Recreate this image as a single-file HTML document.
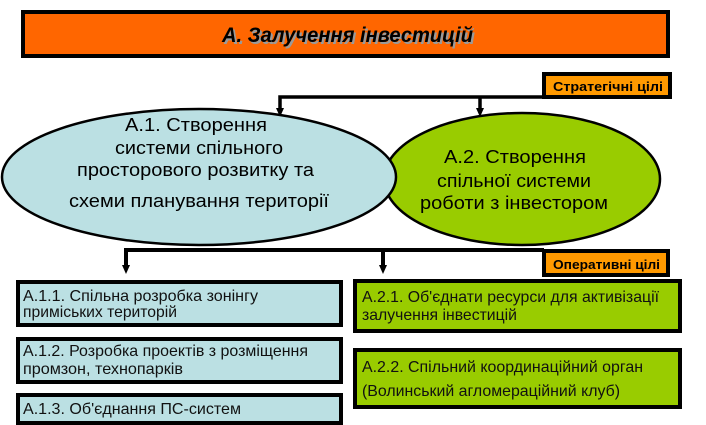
<!DOCTYPE html>
<html>
<head>
<meta charset="utf-8">
<style>
html,body{margin:0;padding:0;background:#fff;}
svg{display:block;}
text{font-family:"Liberation Sans","DejaVu Sans",sans-serif;}
</style>
</head>
<body>
<svg width="706" height="425" viewBox="0 0 706 425" xmlns="http://www.w3.org/2000/svg">
<rect x="0" y="0" width="706" height="425" fill="#fff"/>

<!-- Title -->
<rect x="23" y="12" width="645" height="44" fill="#FF6600" stroke="#000" stroke-width="4"/>
<text x="224" y="44" font-size="21" font-weight="bold" font-style="italic" fill="#9a9a9a" textLength="251" lengthAdjust="spacingAndGlyphs">А. Залучення інвестицій</text>
<text x="222" y="42" font-size="21" font-weight="bold" font-style="italic" fill="#000" textLength="251" lengthAdjust="spacingAndGlyphs">А. Залучення інвестицій</text>

<!-- Strategic connectors -->
<path d="M280,112 L280,97 L544,97" fill="none" stroke="#000" stroke-width="3.5"/>
<line x1="480" y1="97" x2="480" y2="110" stroke="#000" stroke-width="3.5"/>
<polygon points="276,108 284,108 280,117" fill="#000"/>
<polygon points="476,108 484,108 480,117" fill="#000"/>

<!-- Strategic label -->
<rect x="544" y="74" width="126" height="23" fill="#FF9900" stroke="#000" stroke-width="4"/>
<text x="553" y="91" font-size="13" font-weight="bold" fill="#000" textLength="110" lengthAdjust="spacingAndGlyphs">Стратегічні  цілі</text>

<!-- Ellipses -->
<ellipse cx="522" cy="179" rx="138" ry="66" fill="#99CC00" stroke="#000" stroke-width="2.5"/>
<ellipse cx="199" cy="177" rx="197" ry="68" fill="#BBE0E3" stroke="#000" stroke-width="2.5"/>

<text x="125" y="131" font-size="18" fill="#000" textLength="142" lengthAdjust="spacingAndGlyphs">А.1. Створення</text>
<text x="115" y="154" font-size="18" fill="#000" textLength="168" lengthAdjust="spacingAndGlyphs">системи спільного</text>
<text x="77" y="176" font-size="18" fill="#000" textLength="237" lengthAdjust="spacingAndGlyphs">просторового розвитку та</text>
<text x="69" y="207" font-size="18" fill="#000" textLength="260" lengthAdjust="spacingAndGlyphs">схеми планування території</text>

<text x="444" y="163" font-size="18" fill="#000" textLength="142" lengthAdjust="spacingAndGlyphs">А.2. Створення</text>
<text x="437" y="187" font-size="18" fill="#000" textLength="154" lengthAdjust="spacingAndGlyphs">спільної системи</text>
<text x="420" y="209" font-size="18" fill="#000" textLength="188" lengthAdjust="spacingAndGlyphs">роботи з інвестором</text>

<!-- Operative connectors -->
<path d="M126,268 L126,250 L544,250" fill="none" stroke="#000" stroke-width="4"/>
<line x1="383" y1="250" x2="383" y2="268" stroke="#000" stroke-width="4"/>
<polygon points="122,265 130,265 126,274" fill="#000"/>
<polygon points="379,265 387,265 383,274" fill="#000"/>

<!-- Operative label -->
<rect x="544" y="251" width="124" height="24" fill="#FF9900" stroke="#000" stroke-width="4"/>
<text x="553" y="269" font-size="13" font-weight="bold" fill="#000" textLength="107" lengthAdjust="spacingAndGlyphs">Оперативні цілі</text>

<!-- Left boxes -->
<rect x="18" y="282" width="323" height="43" fill="#BBE0E3" stroke="#000" stroke-width="4"/>
<text x="23" y="301" font-size="16" fill="#111" textLength="235" lengthAdjust="spacingAndGlyphs">А.1.1. Спільна розробка зонінгу</text>
<text x="23" y="317" font-size="16" fill="#111" textLength="154" lengthAdjust="spacingAndGlyphs">приміських територій</text>

<rect x="18" y="339" width="323" height="43" fill="#BBE0E3" stroke="#000" stroke-width="4"/>
<text x="23" y="356" font-size="16" fill="#111" textLength="285" lengthAdjust="spacingAndGlyphs">А.1.2. Розробка проектів з розміщення</text>
<text x="23" y="374" font-size="16" fill="#111" textLength="160" lengthAdjust="spacingAndGlyphs">промзон, технопарків</text>

<rect x="18" y="395" width="323" height="28" fill="#BBE0E3" stroke="#000" stroke-width="4"/>
<text x="23" y="414" font-size="16" fill="#111" textLength="218" lengthAdjust="spacingAndGlyphs">А.1.3. Об'єднання ПС-систем</text>

<!-- Right boxes -->
<rect x="355" y="281" width="325" height="50" fill="#99CC00" stroke="#000" stroke-width="4"/>
<text x="362" y="302" font-size="16" fill="#111" textLength="297" lengthAdjust="spacingAndGlyphs">А.2.1. Об'єднати ресурси для активізації</text>
<text x="362" y="320" font-size="16" fill="#111" textLength="155" lengthAdjust="spacingAndGlyphs">залучення інвестицій</text>

<rect x="355" y="350" width="325" height="57" fill="#99CC00" stroke="#000" stroke-width="4"/>
<text x="362" y="372" font-size="16" fill="#111" textLength="281" lengthAdjust="spacingAndGlyphs">А.2.2. Спільний координаційний орган</text>
<text x="362" y="396" font-size="16" fill="#111" textLength="258" lengthAdjust="spacingAndGlyphs">(Волинський агломераційний клуб)</text>
</svg>
</body>
</html>
